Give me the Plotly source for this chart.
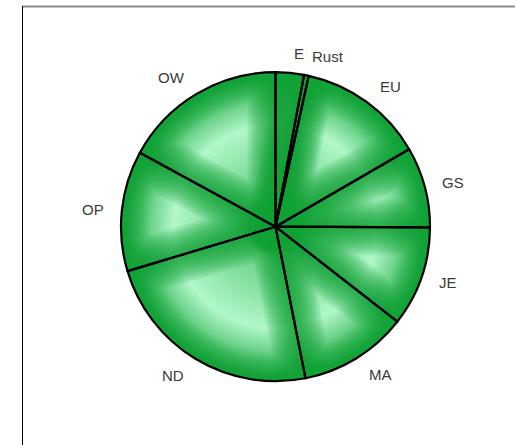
import plotly.graph_objects as go
import numpy as np

# ---- data ----
labels = ["E", "Rust", "EU", "GS", "JE", "MA", "ND", "OP", "OW"]
values = [2.96, 0.49, 13.19, 8.42, 10.47, 11.36, 23.47, 12.58, 17.06]

# ---- geometry / style ----
W, H = 515, 445
CX, CY, R = 275.5, 226.7, 154.5
DARK = np.array([17, 163, 55])
LIGHT = np.array([178, 247, 202])


def dom(r):
    return dict(x=[(CX - r) / W, (CX + r) / W],
                y=[1 - (CY + r) / H, 1 - (CY - r) / H])


def profile(f):
    # brightness across the radius: dark rim, light band, darker centre
    if f >= 0.66:
        return ((1 - f) / 0.34) ** 1.0
    return 0.4 + 0.6 * (f / 0.66) ** 1.2


def mix(t):
    c = DARK + (LIGHT - DARK) * t
    return "rgb(%d,%d,%d)" % tuple(np.round(c).astype(int))


fig = go.Figure()

# radial shading: stacked discs, largest first
N = 70
for k in range(N, 0, -1):
    fo, fi = k / N, (k - 1) / N
    fig.add_trace(go.Pie(values=[1], labels=["_"], sort=False,
                         domain=dom(R * fo), textinfo="none", hoverinfo="skip",
                         marker=dict(colors=[mix(profile((fo + fi) / 2))],
                                     line=dict(width=0)),
                         showlegend=False))

# darker bands along the slice borders
for w in range(56, 3, -4):
    fig.add_trace(go.Pie(values=values, labels=labels, sort=False,
                         direction="clockwise", rotation=0,
                         domain=dom(R), textinfo="none", hoverinfo="skip",
                         marker=dict(colors=["rgba(0,0,0,0)"] * len(values),
                                     line=dict(color="rgba(12,155,48,0.055)", width=w)),
                         showlegend=False))

# white mask outside the pie
RO = R + 40
fig.add_trace(go.Pie(values=[1], labels=["_"], sort=False, hole=R / RO,
                     domain=dom(RO), textinfo="none", hoverinfo="skip",
                     marker=dict(colors=["white"], line=dict(width=0)),
                     showlegend=False))

# main pie outline
fig.add_trace(go.Pie(values=values, labels=labels, sort=False,
                     direction="clockwise", rotation=0,
                     domain=dom(R), textinfo="none",
                     marker=dict(colors=["rgba(0,0,0,0)"] * len(values),
                                 line=dict(color="black", width=2.2)),
                     showlegend=False))

# labels placed outside at each slice's mid angle, anchored by their near edge
total = sum(values)
cum = np.cumsum([0] + values)
annotations = []
for i, lab in enumerate(labels):
    ang = np.radians((cum[i] + cum[i + 1]) / 2 / total * 360)
    r = 174 - 4 * abs(np.sin(ang)) ** 4
    x = CX + r * np.sin(ang)
    y = CY - r * np.cos(ang)
    annotations.append(dict(x=x / W, y=1 - y / H, xref="paper", yref="paper",
                            text=lab, showarrow=False,
                            xanchor="left" if np.sin(ang) >= 0 else "right",
                            yanchor="middle",
                            font=dict(family="Liberation Sans, Arial", size=15, color="#3a3a3a")))

shapes = [
    dict(type="line", xref="paper", yref="paper", x0=22 / W, x1=1.0,
         y0=1 - 6.5 / H, y1=1 - 6.5 / H, line=dict(color="#8a8a8a", width=2)),
    dict(type="line", xref="paper", yref="paper", x0=22.5 / W, x1=22.5 / W,
         y0=0, y1=1 - 6 / H, line=dict(color="black", width=1)),
]

fig.update_layout(width=W, height=H, margin=dict(l=0, r=0, t=0, b=0),
                  paper_bgcolor="white", plot_bgcolor="white",
                  annotations=annotations, shapes=shapes, showlegend=False)

fig.write_html("out.html", config={"displayModeBar": False},
               post_script="document.body.style.margin='0';")
